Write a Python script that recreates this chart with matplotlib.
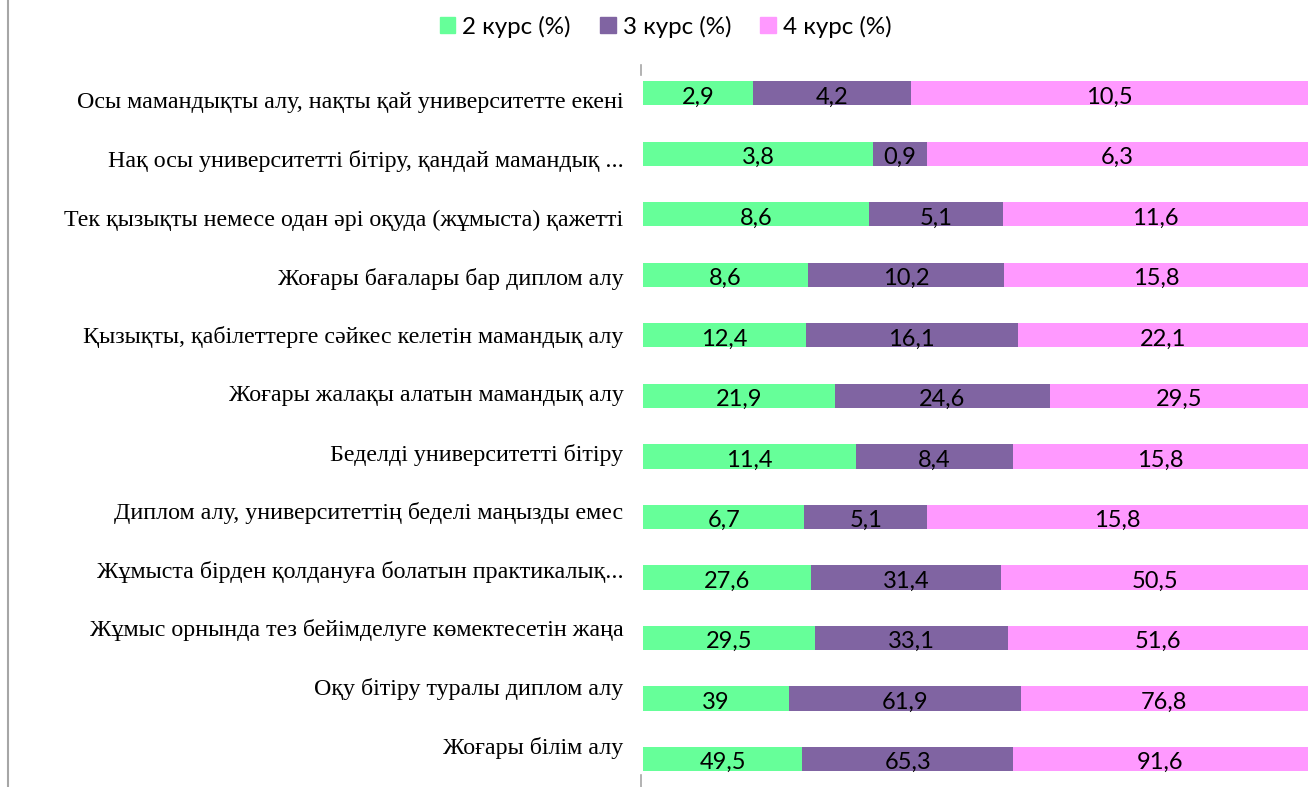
import matplotlib
matplotlib.use("Agg")
import matplotlib.pyplot as plt
import matplotlib.transforms as mtransforms
from matplotlib.lines import Line2D
import numpy as np

categories = [
    "Осы мамандықты алу, нақты қай университетте екені",
    "Нақ осы университетті бітіру, қандай мамандық ...",
    "Тек қызықты немесе одан әрі оқуда (жұмыста) қажетті",
    "Жоғары бағалары бар диплом алу",
    "Қызықты, қабілеттерге сәйкес келетін мамандық алу",
    "Жоғары жалақы алатын мамандық алу",
    "Беделді университетті бітіру",
    "Диплом алу, университеттің беделі маңызды емес",
    "Жұмыста бірден қолдануға болатын практикалық...",
    "Жұмыс орнында тез бейімделуге көмектесетін жаңа",
    "Оқу бітіру туралы диплом алу",
    "Жоғары білім алу",
]
course2 = [2.9, 3.8, 8.6, 8.6, 12.4, 21.9, 11.4, 6.7, 27.6, 29.5, 39, 49.5]
course3 = [4.2, 0.9, 5.1, 10.2, 16.1, 24.6, 8.4, 5.1, 31.4, 33.1, 61.9, 65.3]
course4 = [10.5, 6.3, 11.6, 15.8, 22.1, 29.5, 15.8, 15.8, 50.5, 51.6, 76.8, 91.6]
series_names = ["2 курс (%)", "3 курс (%)", "4 курс (%)"]
colors = ["#66FF99", "#8064A2", "#FF99FF"]

data = np.array([course2, course3, course4])
totals = data.sum(axis=0)
shares = data / totals

fig = plt.figure(figsize=(13.08, 7.87), dpi=100)
ax = fig.add_axes([0.4916, -0.003, 0.5084, 0.923])

y = np.arange(len(categories))
left = np.zeros(len(categories))
for i in range(3):
    ax.barh(y, shares[i], left=left, height=0.4, color=colors[i], zorder=3,
            label=series_names[i])
    for j in range(len(categories)):
        v = data[i, j]
        txt = f"{v:g}".replace(".", ",")
        ax.text(left[j] + shares[i, j] / 2, y[j] + 0.06, txt, ha="center", va="center",
                fontsize=17, family=["Lato", "DejaVu Sans"], color="#000000", zorder=4)
    left = left + shares[i]

ax.set_xlim(0, 1)
ax.set_ylim(len(categories) - 0.5, -0.5)
ax.set_xticks([])
ax.set_yticks(y)
ax.set_yticklabels(categories, fontsize=17.3, family=["Liberation Serif", "DejaVu Serif"])
ax.tick_params(axis="y", length=0, pad=14)
for s in ax.spines.values():
    s.set_visible(False)

# shift labels slightly as in reference
for j, lab in enumerate(ax.get_yticklabels()):
    dy_px = 7 - j * 1.9
    off = mtransforms.ScaledTranslation(0, -dy_px / 100.0, fig.dpi_scale_trans)
    lab.set_transform(lab.get_transform() + off)

# axis stubs
ax.axvline(-0.003, ymin=0.983, ymax=0.997, color="#A6A6A6", lw=1.2, clip_on=False)
ax.axvline(-0.003, ymin=0.003, ymax=0.02, color="#A6A6A6", lw=1.2, clip_on=False)

# left frame line
fig.add_artist(Line2D([8 / 1308, 8 / 1308], [0, 1], color="#A6A6A6", lw=1.5))

handles = [plt.Rectangle((0, 0), 1, 1, color=c) for c in colors]
leg = fig.legend(handles, series_names, loc="center", bbox_to_anchor=(0.509, 0.966),
                 ncol=3, frameon=False, handlelength=0.65, handleheight=0.65,
                 handletextpad=0.3, columnspacing=1.2,
                 prop={"family": ["Lato", "DejaVu Sans"], "size": 17.4})

fig.savefig("out.png", dpi=100)
